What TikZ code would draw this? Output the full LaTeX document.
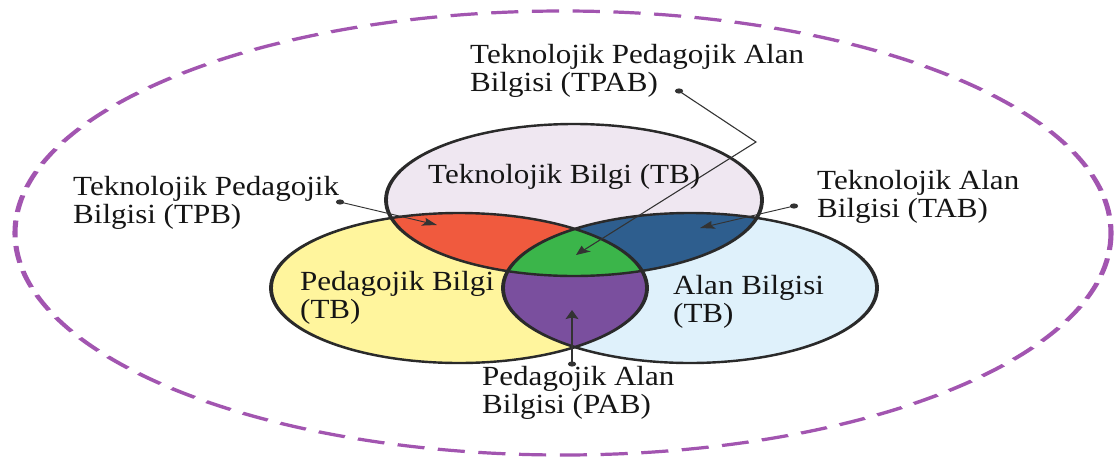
\documentclass[tikz,border=0pt]{standalone}
\usepackage{graphicx}
\usepackage{fontspec}
\setmainfont{Liberation Serif}
\usetikzlibrary{arrows.meta}

\definecolor{tbFill}{HTML}{EFE7F1}
\definecolor{pbFill}{HTML}{FFF59D}
\definecolor{abFill}{HTML}{DFF1FB}
\definecolor{tpbFill}{HTML}{F05A3E}
\definecolor{tabFill}{HTML}{2E5E8E}
\definecolor{pabFill}{HTML}{7A4F9E}
\definecolor{tpabFill}{HTML}{3BB54A}
\definecolor{outerLine}{HTML}{A255B0}
\definecolor{ringLine}{HTML}{2A2A2A}
\definecolor{connLine}{HTML}{333333}
\definecolor{txt}{HTML}{151515}

\newcommand\wide[1]{\scalebox{1.12}[1]{#1}}

% the three knowledge circles, in pixel-like units
\def\ellT{(574,200) ellipse [x radius=188, y radius=76]}
\def\ellP{(459,288) ellipse [x radius=188, y radius=75]}
\def\ellA{(690,288) ellipse [x radius=187, y radius=75]}

\begin{document}
\begin{tikzpicture}[x=1pt,y=-1pt,
  lbl/.style={inner sep=0pt, anchor=west, align=left, text=txt,
    font=\fontsize{27.7}{28}\selectfont},
  ring/.style={draw=ringLine, line width=2.4pt},
  conn/.style={draw=connLine, line width=0.9pt},
  tip/.style={-{Stealth[length=9pt,width=8pt,inset=1.5pt]}},
  dot/.style={fill=connLine}]
\useasboundingbox (0,0) rectangle (1117,461);
\fill[white] (0,0) rectangle (1117,461);

% shapes are stretched sideways on the canvas
\begin{scope}[transform canvas={xscale=1.6}, x=0.625pt]
  % context ring
  \draw[outerLine, line width=3.2pt, dash pattern=on 17pt off 8.5pt]
    (563,233) ellipse [x radius=548, y radius=222];

  % base circles
  \fill[tbFill] \ellT;
  \fill[pbFill] \ellP;
  \fill[abFill] \ellA;

  % pairwise overlaps
  \begin{scope}\clip \ellT; \fill[tpbFill] \ellP; \end{scope}
  \begin{scope}\clip \ellT; \fill[tabFill] \ellA; \end{scope}
  \begin{scope}\clip \ellP; \fill[pabFill] \ellA; \end{scope}
  % triple overlap
  \begin{scope}\clip \ellT; \clip \ellP; \fill[tpabFill] \ellA; \end{scope}

  % outlines
  \draw[ring] \ellT;
  \draw[ring] \ellP;
  \draw[ring] \ellA;

  % pointer anchors
  \coordinate (tpabDot)  at (679,91);
  \coordinate (tpabBend) at (756,142);
  \coordinate (tpabTip)  at (576,255);
  \coordinate (tpbDot)   at (340,202);
  \coordinate (tpbTip)   at (437,225);
  \coordinate (tabDot)   at (794,206);
  \coordinate (tabTip)   at (700,228);
  \coordinate (pabDot)   at (572,364);
  \coordinate (pabTip)   at (572,310);

  \draw[conn,tip] (tpabDot) -- (tpabBend) -- (tpabTip);
  \draw[conn,tip] (tpbDot) -- (tpbTip);
  \draw[conn,tip] (tabDot) -- (tabTip);
  \draw[conn,tip] (pabDot) -- (pabTip);
  \fill[dot] (tpabDot) circle [radius=2.6pt];
  \fill[dot] (tpbDot) circle [radius=2.6pt];
  \fill[dot] (tabDot) circle [radius=2.6pt];
  \fill[dot] (pabDot) circle [radius=2.6pt];
\end{scope}

% labels
\node[lbl] (tpab) at (470,71) {\wide{Teknolojik Pedagojik Alan}\\\wide{Bilgisi (TPAB)}};
\node[lbl] (tpb)  at (73,203)  {\wide{Teknolojik Pedagojik}\\\wide{Bilgisi (TPB)}};
\node[lbl] (tab)  at (817,197) {\wide{Teknolojik Alan}\\\wide{Bilgisi (TAB)}};
\node[lbl] (pab)  at (482,393) {\wide{Pedagojik Alan}\\\wide{Bilgisi (PAB)}};
\node[lbl] (tb)   at (428,177) {\wide{Teknolojik Bilgi (TB)}};
\node[lbl] (pb)   at (300,298) {\wide{Pedagojik Bilgi}\\\wide{(TB)}};
\node[lbl] (ab)   at (673,302) {\wide{Alan Bilgisi}\\\wide{(TB)}};
\end{tikzpicture}
\end{document}
